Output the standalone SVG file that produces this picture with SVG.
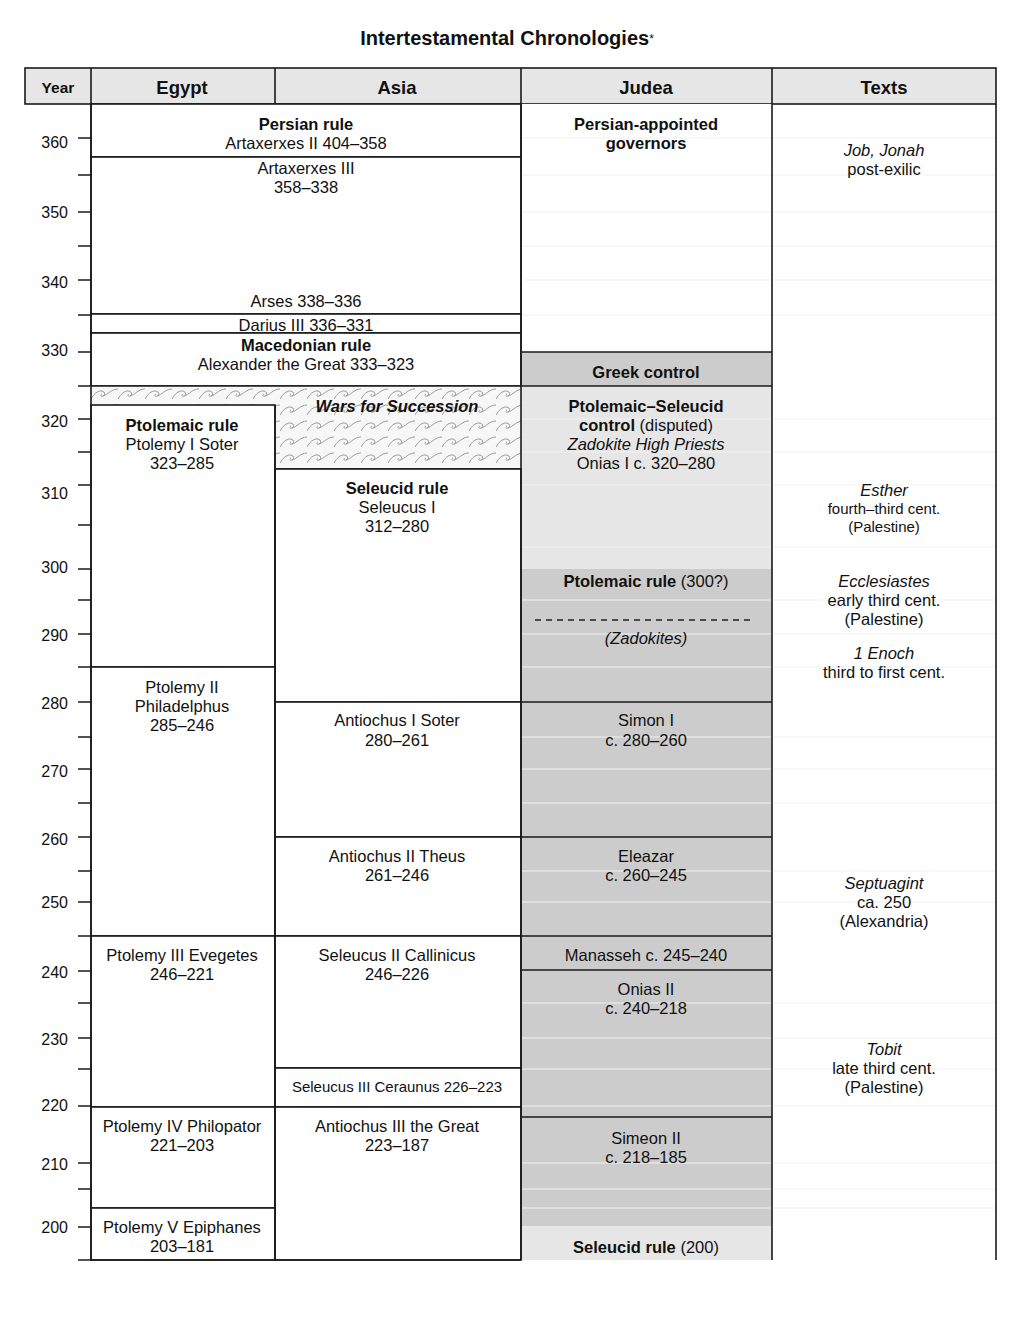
<svg xmlns="http://www.w3.org/2000/svg" width="1020" height="1320" viewBox="0 0 1020 1320">
<style>
text{font-family:"Liberation Sans",Arial,sans-serif;font-size:16.5px;fill:#111;text-anchor:middle}
.b{font-weight:bold}
.i{font-style:italic}
.s{font-size:15px}
.h{font-size:18.5px;font-weight:bold}
.ax{text-anchor:end;font-size:16px}
.box{stroke:#1a1a1a;stroke-width:1.6}
.w{fill:#fff}
.g1{fill:#e6e6e6}
.g2{fill:#cccccc}
.ln{stroke:#1a1a1a;stroke-width:1.6;fill:none}
.grid{stroke:#f1f1f1;stroke-width:1}
.tick{stroke:#1a1a1a;stroke-width:1.6}
</style>
<defs>
<pattern id="waves" width="27" height="16" patternUnits="userSpaceOnUse" x="91" y="386">
<rect width="27" height="16" fill="#f7f7f7"/>
<path d="M0 13 C3 8 6 5 10 5 C14 5 15 9 12 10 C10 11 9 9 11 8 M12 10 C17 9 20 3 27 3" fill="none" stroke="#9a9a9a" stroke-width="1"/>
</pattern>
</defs>
<rect width="1020" height="1320" fill="#fff"/>
<text class="b" x="507" y="45" style="font-size:20px">Intertestamental Chronologies<tspan style="font-size:12px;font-weight:normal" dy="-2">*</tspan></text>

<g id="header">
<rect x="25" y="68" width="971" height="36" class="box g1"/>
<line x1="91" y1="68" x2="91" y2="104" class="ln"/>
<line x1="275" y1="68" x2="275" y2="104" class="ln"/>
<line x1="521" y1="68" x2="521" y2="104" class="ln"/>
<line x1="772" y1="68" x2="772" y2="104" class="ln"/>
<text class="b" x="58" y="93" style="font-size:15.5px">Year</text>
<text class="h" x="182" y="94">Egypt</text>
<text class="h" x="397" y="94">Asia</text>
<text class="h" x="646" y="94">Judea</text>
<text class="h" x="884" y="94">Texts</text>
</g>

<g id="judea-fills">
<rect x="521" y="104" width="251" height="248" class="w"/>
<rect x="521" y="352" width="251" height="34" class="g2"/>
<rect x="521" y="386" width="251" height="183" class="g1"/>
<rect x="521" y="569" width="251" height="657" class="g2"/>
<rect x="521" y="1226" width="251" height="34" class="g1"/>
</g>

<g id="gridlines">
<path class="grid" d="M521 138H996M521 175H996M521 212H996M521 246H996M521 280H996M521 315H996M521 419H996M521 452H996M521 485H996M521 547H996M521 600H996M521 634H996M521 667H996M521 737H996M521 769H996M521 803H996M521 871H996M521 902H996M521 1003H996M521 1038H996M521 1069H996M521 1106H996M521 1163H996M521 1189H996M521 1208H996"/>
</g>

<g id="egypt-asia">
<g id="persian"><rect x="91" y="104" width="430" height="53" class="box w"/>
<text class="b" x="306" y="130">Persian rule</text><text x="306" y="149">Artaxerxes II 404–358</text></g>
<g id="artaxerxes3"><rect x="91" y="157" width="430" height="157" class="box w"/>
<text x="306" y="174">Artaxerxes III</text><text x="306" y="193">358–338</text>
<text x="306" y="307">Arses 338–336</text></g>
<g id="darius"><rect x="91" y="314" width="430" height="19" class="box w"/>
<text x="306" y="331">Darius III 336–331</text></g>
<g id="macedonian"><rect x="91" y="333" width="430" height="53" class="box w"/>
<text class="b" x="306" y="351">Macedonian rule</text><text x="306" y="370">Alexander the Great 333–323</text></g>
<g id="wars"><rect x="91" y="386" width="430" height="83" fill="url(#waves)"/>
<line x1="91" y1="386" x2="521" y2="386" class="ln"/>
<line x1="275" y1="469" x2="521" y2="469" class="ln"/>
<text class="b i" x="397" y="412">Wars for Succession</text></g>
<g id="ptolemaic"><rect x="91" y="405" width="184" height="262" class="box w"/>
<text class="b" x="182" y="431">Ptolemaic rule</text><text x="182" y="450">Ptolemy I Soter</text><text x="182" y="469">323–285</text></g>
<g id="seleucid"><rect x="275" y="469" width="246" height="233" class="box w"/>
<text class="b" x="397" y="494">Seleucid rule</text><text x="397" y="513">Seleucus I</text><text x="397" y="532">312–280</text></g>
<g id="ptolemy2"><rect x="91" y="667" width="184" height="269" class="box w"/>
<text x="182" y="693">Ptolemy II</text><text x="182" y="712">Philadelphus</text><text x="182" y="731">285–246</text></g>
<g id="antiochus1"><rect x="275" y="702" width="246" height="135" class="box w"/>
<text x="397" y="726">Antiochus I Soter</text><text x="397" y="746">280–261</text></g>
<g id="antiochus2"><rect x="275" y="837" width="246" height="99" class="box w"/>
<text x="397" y="862">Antiochus II Theus</text><text x="397" y="881">261–246</text></g>
<g id="ptolemy3"><rect x="91" y="936" width="184" height="171" class="box w"/>
<text x="182" y="961">Ptolemy III Evegetes</text><text x="182" y="980">246–221</text></g>
<g id="seleucus2"><rect x="275" y="936" width="246" height="132" class="box w"/>
<text x="397" y="961">Seleucus II Callinicus</text><text x="397" y="980">246–226</text></g>
<g id="seleucus3"><rect x="275" y="1068" width="246" height="39" class="box w"/>
<text class="s" x="397" y="1092">Seleucus III Ceraunus 226–223</text></g>
<g id="ptolemy4"><rect x="91" y="1107" width="184" height="101" class="box w"/>
<text x="182" y="1132">Ptolemy IV Philopator</text><text x="182" y="1151">221–203</text></g>
<g id="antiochus3"><rect x="275" y="1107" width="246" height="153" class="box w"/>
<text x="397" y="1132">Antiochus III the Great</text><text x="397" y="1151">223–187</text></g>
<g id="ptolemy5"><rect x="91" y="1208" width="184" height="52" class="box w"/>
<text x="182" y="1233">Ptolemy V Epiphanes</text><text x="182" y="1252">203–181</text></g>
</g>

<g id="judea">
<g id="persian-governors"><text class="b" x="646" y="130">Persian-appointed</text><text class="b" x="646" y="149">governors</text></g>
<g id="greek-control"><line x1="521" y1="352" x2="772" y2="352" class="ln"/><line x1="521" y1="386" x2="772" y2="386" class="ln"/>
<text class="b" x="646" y="378">Greek control</text></g>
<g id="ptolemaic-seleucid"><text class="b" x="646" y="412">Ptolemaic–Seleucid</text>
<text x="646" y="431"><tspan class="b">control</tspan> (disputed)</text>
<text class="i" x="646" y="450">Zadokite High Priests</text><text x="646" y="469">Onias I c. 320–280</text></g>
<g id="ptolemaic-judea"><text x="646" y="587"><tspan class="b">Ptolemaic rule</tspan> (300?)</text>
<line x1="535" y1="620" x2="753" y2="620" stroke="#222" stroke-width="1.3" stroke-dasharray="6,5"/>
<text class="i" x="646" y="644">(Zadokites)</text></g>
<g id="simon1"><line x1="521" y1="702" x2="772" y2="702" class="ln"/><text x="646" y="726">Simon I</text><text x="646" y="746">c. 280–260</text></g>
<g id="eleazar"><line x1="521" y1="837" x2="772" y2="837" class="ln"/><text x="646" y="862">Eleazar</text><text x="646" y="881">c. 260–245</text></g>
<g id="manasseh"><line x1="521" y1="936" x2="772" y2="936" class="ln"/><text x="646" y="961">Manasseh c. 245–240</text></g>
<g id="onias2"><line x1="521" y1="970" x2="772" y2="970" class="ln"/><text x="646" y="995">Onias II</text><text x="646" y="1014">c. 240–218</text></g>
<g id="simeon2"><line x1="521" y1="1117" x2="772" y2="1117" class="ln"/><text x="646" y="1144">Simeon II</text><text x="646" y="1163">c. 218–185</text></g>
<g id="seleucid-judea"><text x="646" y="1253"><tspan class="b">Seleucid rule</tspan> (200)</text></g>
</g>

<g id="texts">
<g id="job"><text class="i" x="884" y="156">Job, Jonah</text><text x="884" y="175">post-exilic</text></g>
<g id="esther"><text class="i" x="884" y="496">Esther</text><text class="s" x="884" y="514">fourth–third cent.</text><text class="s" x="884" y="532">(Palestine)</text></g>
<g id="ecclesiastes"><text class="i" x="884" y="587">Ecclesiastes</text><text x="884" y="606">early third cent.</text><text x="884" y="625">(Palestine)</text></g>
<g id="enoch"><text class="i" x="884" y="659">1 Enoch</text><text x="884" y="678">third to first cent.</text></g>
<g id="septuagint"><text class="i" x="884" y="889">Septuagint</text><text x="884" y="908">ca. 250</text><text x="884" y="927">(Alexandria)</text></g>
<g id="tobit"><text class="i" x="884" y="1055">Tobit</text><text x="884" y="1074">late third cent.</text><text x="884" y="1093">(Palestine)</text></g>
</g>

<g id="connectors">
<line x1="91" y1="104" x2="91" y2="1260" class="ln"/>
<line x1="275" y1="405" x2="275" y2="1260" class="ln"/>
<line x1="521" y1="104" x2="521" y2="1260" class="ln"/>
<line x1="772" y1="104" x2="772" y2="1260" class="ln"/>
<line x1="996" y1="104" x2="996" y2="1260" class="ln"/>
<line x1="78" y1="1260" x2="521" y2="1260" class="ln"/>
</g>

<g id="axis">
<path class="tick" d="M78 138H91M78 175H91M78 212H91M78 246H91M78 280H91M78 315H91M78 352H91M78 386H91M78 419H91M78 452H91M78 485H91M78 525H91M78 569H91M78 600H91M78 634H91M78 667H91M78 702H91M78 737H91M78 769H91M78 803H91M78 837H91M78 871H91M78 902H91M78 936H91M78 971H91M78 1003H91M78 1038H91M78 1069H91M78 1106H91M78 1163H91M78 1189H91M78 1227H91"/>
<text class="ax" x="68" y="148">360</text>
<text class="ax" x="68" y="218">350</text>
<text class="ax" x="68" y="288">340</text>
<text class="ax" x="68" y="356">330</text>
<text class="ax" x="68" y="427">320</text>
<text class="ax" x="68" y="499">310</text>
<text class="ax" x="68" y="573">300</text>
<text class="ax" x="68" y="641">290</text>
<text class="ax" x="68" y="709">280</text>
<text class="ax" x="68" y="777">270</text>
<text class="ax" x="68" y="845">260</text>
<text class="ax" x="68" y="908">250</text>
<text class="ax" x="68" y="978">240</text>
<text class="ax" x="68" y="1045">230</text>
<text class="ax" x="68" y="1111">220</text>
<text class="ax" x="68" y="1170">210</text>
<text class="ax" x="68" y="1233">200</text>
</g>
</svg>
